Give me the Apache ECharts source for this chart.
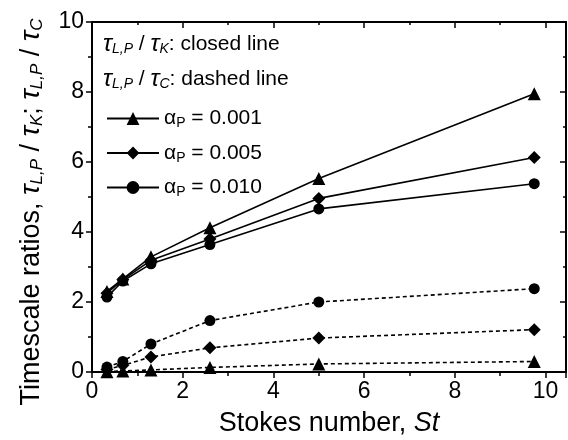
<!DOCTYPE html>
<html>
<head>
<meta charset="UTF-8">
<title>Timescale ratios vs Stokes number</title>
<script src="https://cdn.jsdelivr.net/npm/echarts@6/dist/echarts.min.js"></script>
<style>
html, body { margin: 0; padding: 0; background: #fff; }
#chart { width: 568px; height: 440px; }
</style>
</head>
<body>
<div id="chart"></div>
<script>
// Stokes number (x) and timescale ratios
const stokes = [0.33, 0.68, 1.3, 2.6, 5.0, 9.75];
// tau_LP / tau_K (closed lines)
const tauK001 = [2.30, 2.66, 3.29, 4.12, 5.53, 7.95];
const tauK005 = [2.25, 2.64, 3.19, 3.80, 4.96, 6.13];
const tauK010 = [2.14, 2.60, 3.09, 3.64, 4.66, 5.38];
// tau_LP / tau_C (dashed lines)
const tauC001 = [0.01, 0.03, 0.06, 0.13, 0.23, 0.30];
const tauC005 = [0.07, 0.19, 0.43, 0.69, 0.97, 1.21];
const tauC010 = [0.14, 0.30, 0.80, 1.47, 2.00, 2.38];
const alphaNames = ['a001', 'a005', 'a010'];
const alphaLabels = ['0.001', '0.005', '0.010'];
const symbols = ['triangle', 'diamond', 'circle'];

const font = 'Liberation Sans, Arial, sans-serif';
const tau = { fontSize: 24, fontStyle: 'italic', fontFamily: font, color: '#000' };
const sub = { fontSize: 14, fontStyle: 'italic', fontFamily: font, color: '#000', padding: [10, 0, 0, 0] };
const txt = { fontSize: 21, fontFamily: font, color: '#000' };

function pts(ys) {
  return stokes.map((x, i) => [x, ys[i]]);
}

function makeSeries(name, ys, sym, dashed) {
  return {
    name: name,
    type: 'line',
    data: pts(ys),
    symbol: sym,
    symbolSize: sym === 'circle' ? 11 : 13,
    lineStyle: { color: '#000', width: 1.6, type: dashed ? [4, 3] : 'solid' },
    itemStyle: { color: '#000' },
    z: dashed ? 2 : 3
  };
}

const mirrorAxis = {
  min: 0,
  axisLine: { show: true, onZero: false, lineStyle: { color: '#000', width: 2 } },
  axisTick: { show: true, inside: true, length: 6, lineStyle: { color: '#000', width: 1.5 } },
  minorTick: { show: true, splitNumber: 2, length: 3, lineStyle: { color: '#000', width: 1.5 } },
  axisLabel: { show: false },
  splitLine: { show: false }
};

const chart = echarts.init(document.getElementById('chart'));
chart.setOption({
  animation: false,
  grid: { left: 92, right: 2, top: 22, bottom: 68, outerBoundsMode: 'none' },
  legend: {
    data: alphaNames,
    orient: 'vertical',
    left: 101,
    top: 103,
    itemWidth: 52,
    itemHeight: 16,
    itemGap: 12,
    selectedMode: false,
    formatter: name => '{a|\u03b1}{s|P}{a| = ' + alphaLabels[alphaNames.indexOf(name)] + '}',
    textStyle: {
      color: '#000',
      rich: {
        a: { fontSize: 21, fontFamily: font, color: '#000' },
        s: { fontSize: 14, fontFamily: font, color: '#000', padding: [10, 0, 0, 0] }
      }
    }
  },
  graphic: [
    {
      type: 'text', left: 103, top: 32,
      style: {
        text: '{t|\u03c4}{s|L,P}{n| / }{t|\u03c4}{s|K}{n|: closed line}',
        rich: { t: tau, s: sub, n: txt }
      }
    },
    {
      type: 'text', left: 103, top: 67,
      style: {
        text: '{t|\u03c4}{s|L,P}{n| / }{t|\u03c4}{s|C}{n|: dashed line}',
        rich: { t: tau, s: sub, n: txt }
      }
    }
  ],
  xAxis: [
    {
      type: 'value',
      min: 0,
      max: 10.45,
      interval: 2,
      name: '{n|Stokes number, }{i|St}',
      nameLocation: 'middle',
      nameGap: 38,
      nameTextStyle: {
        rich: {
          n: { fontSize: 27, fontFamily: font, color: '#000' },
          i: { fontSize: 27, fontFamily: font, fontStyle: 'italic', color: '#000' }
        }
      },
      axisLine: { onZero: false, lineStyle: { color: '#000', width: 2 } },
      axisTick: { length: 6, lineStyle: { color: '#000', width: 1.5 } },
      minorTick: { show: true, splitNumber: 2, length: 4, lineStyle: { color: '#000', width: 1.5 } },
      axisLabel: { fontSize: 23, fontFamily: font, color: '#000', margin: 8, showMaxLabel: false },
      splitLine: { show: false }
    },
    Object.assign({ type: 'value', position: 'top', max: 10.45, interval: 2 }, mirrorAxis)
  ],
  yAxis: [
    {
      type: 'value',
      min: 0,
      max: 10,
      interval: 2,
      name: '{n|Timescale ratios, }{t|\u03c4}{s|L,P}{n| / }{t|\u03c4}{s|K}{n|; }{t|\u03c4}{s|L,P}{n| / }{t|\u03c4}{s|C}',
      nameLocation: 'middle',
      nameGap: 46,
      nameTextStyle: {
        padding: [0, 30, 0, 0],
        rich: {
          n: { fontSize: 27, fontFamily: font, color: '#000' },
          t: { fontSize: 28, fontFamily: font, fontStyle: 'italic', color: '#000' },
          s: { fontSize: 17, fontFamily: font, fontStyle: 'italic', color: '#000', padding: [12, 0, 0, 0] }
        }
      },
      axisLine: { show: true, onZero: false, lineStyle: { color: '#000', width: 2 } },
      axisTick: { show: true, length: 6, lineStyle: { color: '#000', width: 1.5 } },
      minorTick: { show: true, splitNumber: 2, length: 4, lineStyle: { color: '#000', width: 1.5 } },
      axisLabel: { fontSize: 23, fontFamily: font, color: '#000', margin: 8 },
      splitLine: { show: false }
    },
    Object.assign({ type: 'value', position: 'right', max: 10, interval: 2 }, mirrorAxis)
  ],
  series: [
    makeSeries(alphaNames[0], tauK001, symbols[0], false),
    makeSeries(alphaNames[1], tauK005, symbols[1], false),
    makeSeries(alphaNames[2], tauK010, symbols[2], false),
    makeSeries('c001', tauC001, symbols[0], true),
    makeSeries('c005', tauC005, symbols[1], true),
    makeSeries('c010', tauC010, symbols[2], true),
    // empty helper so the mirrored top/right axes are drawn
    { name: 'frame', type: 'line', xAxisIndex: 1, yAxisIndex: 1, data: [[0, 0]], symbol: 'none', silent: true, lineStyle: { opacity: 0 } }
  ]
});
</script>
</body>
</html>
